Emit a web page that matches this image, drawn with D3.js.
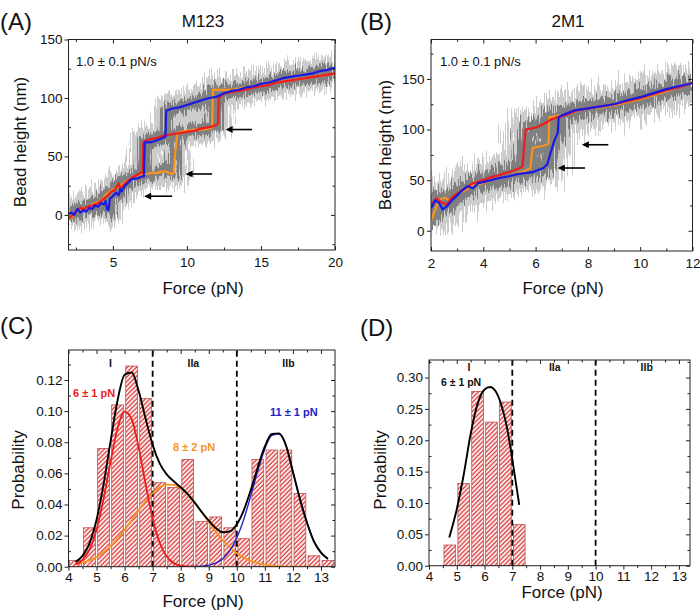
<!DOCTYPE html>
<html><head><meta charset="utf-8">
<script src="https://cdn.jsdelivr.net/npm/d3@7"></script>
<style>body{margin:0;background:#fff} text{font-family:"Liberation Sans",Arial,sans-serif}</style>
</head><body><svg id="c" width="700" height="614"></svg>
<script>
// ---------- DATA ----------
// Panel A (M123): smoothed traces [force pN, bead height nm]
const traceA_blue = [[2.0,1],[2.2,2],[2.4,0],[2.6,5],[2.8,2],[3.0,4],[3.2,3],[3.4,6],[3.6,5],[3.8,8],[4.0,7],[4.2,10],[4.4,9],[4.5,12],[4.6,5],[4.7,4],[4.8,14],[5.0,16],[5.2,19],[5.4,17],[5.5,22],[5.6,20],[5.8,25],[6.0,27],[6.2,30],[6.4,31],[6.6,31],[6.8,32],[7.0,33],[7.1,33],[7.15,62],[7.3,62],[7.5,62],[7.8,63],[8.0,64],[8.2,65],[8.4,66],[8.55,67],[8.6,89],[8.8,90],[9.0,91],[9.5,92],[10.0,94],[10.5,96],[11.0,98],[11.5,100],[12.0,101],[12.5,104],[13.0,106],[13.5,107],[14.0,109],[14.5,110],[15.0,112],[15.5,113],[16.0,115],[16.5,117],[17.0,118],[17.5,119],[18.0,120],[18.5,121],[19.0,123],[19.5,124],[20.0,126]];
const traceA_red = [[2.0,-3],[2.2,-1],[2.5,3],[2.8,6],[3.0,5],[3.3,7],[3.6,8],[4.0,10],[4.3,13],[4.6,16],[4.9,20],[5.1,21],[5.3,25],[5.4,27],[5.5,22],[5.8,27],[6.0,29],[6.3,32],[6.6,34],[6.9,36],[7.0,36],[7.05,62],[7.3,64],[7.6,65],[8.0,66],[8.5,68],[9.0,69],[9.5,70],[10.0,71],[10.5,72],[11.0,74],[11.5,75],[11.8,76],[12.0,77],[12.1,78],[12.15,100],[12.5,104],[13.0,105],[13.5,106],[14.0,107],[14.5,109],[15.0,110],[15.5,111],[16.0,113],[16.5,114],[17.0,115],[17.5,116],[18.0,117],[18.5,118],[19.0,119],[19.5,120],[20.0,121]];
const traceA_orange = [[2.0,-4],[2.2,-2],[2.5,2],[2.8,5],[3.0,6],[3.3,6],[3.6,9],[4.0,11],[4.3,14],[4.6,18],[4.9,21],[5.2,23],[5.5,25],[5.8,28],[6.1,30],[6.4,33],[6.7,34],[7.0,35],[7.3,35],[7.6,36],[8.0,36],[8.3,37],[8.6,37],[9.0,35],[9.1,36],[9.2,52],[9.35,70],[9.6,71],[10.0,72],[10.5,73],[11.0,73],[11.5,74],[11.7,75],[11.75,107],[12.0,107],[12.5,107],[13.0,107],[13.5,108],[14.0,109],[14.5,110],[15.0,111],[15.5,112],[16.0,113],[16.5,114],[17.0,115],[17.5,116],[18.0,117],[18.5,118],[19.0,119],[19.5,120],[20.0,121]];
const arrowsA = [[12.7,14.4,73],[10.0,11.7,35],[7.2,9.0,16]];

// Panel B (2M1)
const traceB_blue = [[2.0,22],[2.15,30],[2.3,28],[2.45,21],[2.6,24],[2.8,30],[3.0,35],[3.2,40],[3.4,44],[3.6,42],[3.8,47],[4.0,48],[4.3,50],[4.6,52],[5.0,54],[5.3,56],[5.6,57],[5.9,58],[6.1,60],[6.3,62],[6.45,66],[6.55,75],[6.7,88],[6.85,97],[6.88,112],[7.0,114],[7.2,116],[7.5,119],[8.0,121],[8.5,123],[9.0,125],[9.5,129],[10.0,132],[10.5,136],[11.0,140],[11.5,143],[12.0,146]];
const traceB_red = [[2.0,25],[2.2,32],[2.4,28],[2.6,26],[2.8,33],[3.0,37],[3.3,42],[3.6,47],[4.0,50],[4.3,53],[4.6,55],[5.0,58],[5.2,60],[5.4,62],[5.5,64],[5.55,80],[5.62,100],[5.8,101],[6.0,102],[6.2,104],[6.4,107],[6.6,110],[6.8,112],[7.0,113],[7.3,116],[7.6,119],[8.0,121],[8.5,123],[9.0,125],[9.5,128],[10.0,131],[10.5,135],[11.0,139],[11.5,142],[12.0,146]];
const traceB_orange = [[2.0,10],[2.15,20],[2.3,30],[2.5,33],[2.7,30],[3.0,37],[3.3,40],[3.6,45],[4.0,47],[4.3,50],[4.6,52],[5.0,54],[5.3,57],[5.6,59],[5.8,62],[5.85,75],[5.9,82],[6.1,83],[6.3,84],[6.5,86],[6.52,112],[6.7,113],[7.0,114],[7.5,118],[8.0,121],[8.5,122],[9.0,124],[9.5,127],[10.0,130],[10.5,134],[11.0,138],[11.5,142],[12.0,147]];
const arrowsB = [[7.82,8.78,85],[6.9,7.89,62]];

// Panel C histogram (bin centre, probability)
const histC_centers = [4.25,4.75,5.25,5.75,6.25,6.75,7.25,7.75,8.25,8.75,9.25,9.75,10.25,10.75,11.25,11.75,12.25,12.75,13.25];
const histC_values  = [0.004,0.025,0.076,0.104,0.129,0.108,0.054,0.051,0.069,0.029,0.032,0.025,0.018,0.069,0.075,0.075,0.047,0.007,0.004];
const fitC_red = [[4.25,0.0015],[4.5,0.0044],[4.75,0.0111],[5.0,0.0239],[5.25,0.0436],[5.5,0.0675],[5.75,0.089],[6.0,0.0997],[6.25,0.0949],[6.5,0.0769],[6.75,0.0529],[7.0,0.031],[7.25,0.0154],[7.5,0.0065],[7.75,0.0023],[8.0,0.0007],[8.25,0.0002],[8.5,0]];
const fitC_orange = [[4.25,0.0016],[4.5,0.0026],[4.75,0.0041],[5.0,0.0063],[5.25,0.0093],[5.5,0.0132],[5.75,0.018],[6.0,0.0237],[6.25,0.0299],[6.5,0.0362],[6.75,0.0422],[7.0,0.0473],[7.25,0.051],[7.5,0.0528],[7.75,0.0526],[8.0,0.0504],[8.25,0.0464],[8.5,0.0411],[8.75,0.0349],[9.0,0.0286],[9.25,0.0225],[9.5,0.017],[9.75,0.0124],[10.0,0.0086],[10.25,0.0058],[10.5,0.0037],[10.75,0.0023],[11.0,0.0014],[11.5,0.0004],[12.0,0.0001],[12.75,0]];
const fitC_blue = [[8.0,0],[8.5,0.0001],[9.0,0.001],[9.25,0.0023],[9.5,0.0051],[9.75,0.0103],[10.0,0.0186],[10.25,0.0306],[10.5,0.0457],[10.75,0.0618],[11.0,0.0759],[11.25,0.0845],[11.5,0.0853],[11.75,0.0781],[12.0,0.061],[12.25,0.0435],[12.5,0.0284],[12.75,0.0162],[13.0,0.0091],[13.25,0.005]];
const fitC_total = [[4.25,0.0031],[4.5,0.007],[4.75,0.0152],[5.0,0.0302],[5.25,0.0529],[5.5,0.0807],[5.75,0.107],[6.0,0.1234],[6.25,0.1248],[6.5,0.1131],[6.75,0.0951],[7.0,0.0783],[7.25,0.0664],[7.5,0.0593],[7.75,0.0549],[8.0,0.0511],[8.25,0.0466],[8.5,0.0412],[8.75,0.0352],[9.0,0.0296],[9.25,0.0248],[9.5,0.0221],[9.75,0.0227],[10.0,0.0272],[10.25,0.0364],[10.5,0.0494],[10.75,0.0641],[11.0,0.0773],[11.25,0.0853],[11.5,0.0857],[11.75,0.0781],[12.0,0.061],[12.25,0.0435],[12.5,0.0284],[12.75,0.0162],[13.0,0.0091],[13.25,0.005]];

// Panel D histogram
const histD_centers = [4.75,5.25,5.75,6.25,6.75,7.25];
const histD_values  = [0.033,0.131,0.278,0.229,0.261,0.066];
const fitD_total = [[4.73,0.045],[5.0,0.09],[5.25,0.145],[5.5,0.21],[5.75,0.258],[6.0,0.281],[6.2,0.285],[6.4,0.278],[6.6,0.257],[6.8,0.222],[7.0,0.17],[7.25,0.097]];

const regionBounds = [7,10];
const regionLabels = [[5.5,"I"],[8.45,"IIa"],[11.84,"IIb"]];
const regionLabelsD = [[5.44,"I"],[8.53,"IIa"],[11.84,"IIb"]];

// ---------- DRAWING ----------
const FONT = '"Liberation Sans",Arial,sans-serif';
const svg = d3.select('#c');
const defs = svg.append('defs');

const pat = defs.append('pattern').attr('id','hatch').attr('patternUnits','userSpaceOnUse')
  .attr('width',3.2).attr('height',3.2).attr('patternTransform','rotate(45)');
pat.append('rect').attr('width',3.2).attr('height',3.2).attr('fill','#fdeaea');
pat.append('line').attr('x1',1).attr('y1',0).attr('x2',1).attr('y2',3.2).attr('stroke','#d83a3a').attr('stroke-width',1.2);

const mk = defs.append('marker').attr('id','ah').attr('viewBox','0 0 10 10').attr('refX',1).attr('refY',5)
  .attr('markerWidth',8).attr('markerHeight',7).attr('markerUnits','userSpaceOnUse').attr('orient','auto-start-reverse');
mk.append('path').attr('d','M0,0 L10,5 L0,10 z').attr('fill','#000');

function noiseFilter(id, seed, scale){
  const f = defs.append('filter').attr('id',id).attr('filterUnits','userSpaceOnUse')
    .attr('x',0).attr('y',0).attr('width',700).attr('height',614);
  f.append('feTurbulence').attr('type','fractalNoise').attr('baseFrequency','0.9 0.02')
    .attr('numOctaves',2).attr('seed',seed).attr('result','t');
  f.append('feDisplacementMap').attr('in','SourceGraphic').attr('in2','t').attr('scale',scale)
    .attr('xChannelSelector','G').attr('yChannelSelector','R');
}
noiseFilter('nA1',3,30); noiseFilter('nA2',7,20);
noiseFilter('nB1',5,44); noiseFilter('nB2',11,26);

function makePanel(o){
  const x = d3.scaleLinear().domain(o.xd).range([o.l,o.r]);
  const y = d3.scaleLinear().domain(o.yd).range([o.b,o.t]);
  const id = 'clip'+o.name;
  defs.append('clipPath').attr('id',id).append('rect')
    .attr('x',o.l).attr('y',o.t).attr('width',o.r-o.l).attr('height',o.b-o.t);
  const g = svg.append('g');
  const plot = g.append('g').attr('clip-path',`url(#${id})`);
  return {x,y,g,plot,o};
}

function styleAxis(sel){
  sel.select('.domain').remove();
  sel.selectAll('line').attr('stroke','#222').attr('stroke-width',1);
  sel.selectAll('text').attr('font-family',FONT).attr('font-size',13.5).attr('fill','#111');
}

function drawAxes(p){
  const {x,y,g,o} = p;
  const ax = g.append('g');
  styleAxis(ax.append('g').attr('transform',`translate(0,${o.b})`)
    .call(d3.axisBottom(x).tickValues(o.xMajor).tickSizeInner(o.bt).tickSizeOuter(0).tickPadding(o.bp).tickFormat(o.xFmt)));
  styleAxis(ax.append('g').attr('transform',`translate(0,${o.b})`)
    .call(d3.axisBottom(x).tickValues(o.xMinor).tickSizeInner(o.bt>0?2.5:-2.5).tickSizeOuter(0).tickFormat('')));
  styleAxis(ax.append('g').attr('transform',`translate(0,${o.t})`)
    .call(d3.axisTop(x).tickValues(o.xMajor).tickSizeInner(-4).tickSizeOuter(0).tickFormat('')));
  styleAxis(ax.append('g').attr('transform',`translate(0,${o.t})`)
    .call(d3.axisTop(x).tickValues(o.xMinor).tickSizeInner(-2.5).tickSizeOuter(0).tickFormat('')));
  styleAxis(ax.append('g').attr('transform',`translate(${o.l},0)`)
    .call(d3.axisLeft(y).tickValues(o.yMajor).tickSizeInner(4).tickSizeOuter(0).tickPadding(o.lp).tickFormat(o.yFmt)));
  styleAxis(ax.append('g').attr('transform',`translate(${o.l},0)`)
    .call(d3.axisLeft(y).tickValues(o.yMinor).tickSizeInner(-2.5).tickSizeOuter(0).tickFormat('')));
  styleAxis(ax.append('g').attr('transform',`translate(${o.r},0)`)
    .call(d3.axisRight(y).tickValues(o.yMajor).tickSizeInner(-4).tickSizeOuter(0).tickFormat('')));
  styleAxis(ax.append('g').attr('transform',`translate(${o.r},0)`)
    .call(d3.axisRight(y).tickValues(o.yMinor).tickSizeInner(-2.5).tickSizeOuter(0).tickFormat('')));
  ax.append('rect').attr('x',o.l).attr('y',o.t).attr('width',o.r-o.l).attr('height',o.b-o.t)
    .attr('fill','none').attr('stroke','#222').attr('stroke-width',1);
}

function txt(s, x, y, size, opts={}){
  const t = svg.append('text').attr('x',x).attr('y',y).attr('font-family',FONT).attr('font-size',size)
    .attr('fill',opts.fill||'#111').attr('text-anchor',opts.anchor||'start')
    .attr('font-weight',opts.weight||'normal').text(s);
  if(opts.rotate) t.attr('transform',`rotate(-90,${x},${y})`);
  return t;
}

const RED='#ee1c1c', ORANGE='#f7931e', BLUE='#1a1ae6';

function tracePanel(p, traces, widths, fids, arrows){
  const line = d3.line().x(d=>p.x(d[0])).y(d=>p.y(d[1]));
  const g1 = p.plot.append('g').attr('filter',`url(#${fids[0]})`);
  traces.forEach(t=>g1.append('path').attr('d',line(t.d)).attr('fill','none').attr('stroke','#cccccc')
    .attr('stroke-width',widths[0]).attr('stroke-linejoin','round').attr('stroke-linecap','butt'));
  const g2 = p.plot.append('g').attr('filter',`url(#${fids[1]})`);
  traces.forEach(t=>g2.append('path').attr('d',line(t.d)).attr('fill','none').attr('stroke','#808080')
    .attr('stroke-width',widths[1]).attr('stroke-linejoin','round').attr('stroke-linecap','butt'));
  traces.forEach(t=>p.plot.append('path').attr('d',line(t.d)).attr('fill','none').attr('stroke',t.c)
    .attr('stroke-width',2.2).attr('stroke-linejoin','round'));
  arrows.forEach(a=>p.g.append('line').attr('x1',p.x(a[0])+5).attr('x2',p.x(a[1])).attr('y1',p.y(a[2])).attr('y2',p.y(a[2]))
    .attr('stroke','#000').attr('stroke-width',1.6).attr('marker-start','url(#ah)'));
}

// Panel A
const pA = makePanel({name:'A',xd:[2,20],yd:[-30,150],l:68.5,r:335,t:39.5,b:250,
  xMajor:[5,10,15,20],xMinor:[2.5,7.5,12.5,17.5],yMajor:[0,50,100,150],yMinor:[-25,25,75,125],
  bt:-4,bp:7,lp:2,xFmt:d3.format('d'),yFmt:d3.format('d')});
tracePanel(pA,[{d:traceA_orange,c:ORANGE},{d:traceA_red,c:RED},{d:traceA_blue,c:BLUE}],[28,12],['nA1','nA2'],arrowsA);
drawAxes(pA);

// Panel B
const pB = makePanel({name:'B',xd:[2,12],yd:[-20,189],l:431,r:692.5,t:39.5,b:251,
  xMajor:[2,4,6,8,10,12],xMinor:[3,5,7,9,11],yMajor:[0,50,100,150],yMinor:[25,75,125,175],
  bt:-4,bp:7,lp:2.5,xFmt:d3.format('d'),yFmt:d3.format('d')});
tracePanel(pB,[{d:traceB_orange,c:ORANGE},{d:traceB_red,c:RED},{d:traceB_blue,c:BLUE}],[38,16],['nB1','nB2'],arrowsB);
drawAxes(pB);

function histPanel(p, centers, values, curves, labels, labY){
  const w = 0.42;
  p.plot.selectAll('rect.bar').data(centers).join('rect').attr('class','bar')
    .attr('x',(c)=>p.x(c-w/2)).attr('width',(c)=>p.x(c+w/2)-p.x(c-w/2))
    .attr('y',(c,i)=>p.y(values[i])).attr('height',(c,i)=>p.y(0)-p.y(values[i]))
    .attr('fill','url(#hatch)').attr('stroke','#b84040').attr('stroke-width',0.7);
  regionBounds.forEach(v=>p.plot.append('line').attr('x1',p.x(v)).attr('x2',p.x(v))
    .attr('y1',p.y.range()[0]).attr('y2',p.y.range()[1]).attr('stroke','#000').attr('stroke-width',1.8)
    .attr('stroke-dasharray','6,4'));
  const line = d3.line().x(d=>p.x(d[0])).y(d=>p.y(d[1])).curve(d3.curveMonotoneX);
  curves.forEach(c=>p.plot.append('path').attr('d',line(c.d)).attr('fill','none').attr('stroke',c.c)
    .attr('stroke-width',c.w||1.8));
  labels.forEach(l=>txt(l[1],p.x(l[0]),labY,10.5,{anchor:'middle',weight:'bold'}));
}

// Panel C
const pC = makePanel({name:'C',xd:[4,13.5],yd:[0,0.1393],l:68.5,r:335,t:350,b:566.7,
  xMajor:[4,5,6,7,8,9,10,11,12,13],xMinor:[4.5,5.5,6.5,7.5,8.5,9.5,10.5,11.5,12.5],
  yMajor:[0,0.02,0.04,0.06,0.08,0.10,0.12],yMinor:[0.01,0.03,0.05,0.07,0.09,0.11,0.13],
  bt:4,bp:2,lp:2,xFmt:d3.format('d'),yFmt:d3.format('.2f')});
histPanel(pC,histC_centers,histC_values,
  [{d:fitC_orange,c:ORANGE},{d:fitC_blue,c:'#2222c8',w:1.4},{d:fitC_red,c:RED},{d:fitC_total,c:'#000',w:1.9}],
  regionLabels,367);
drawAxes(pC);
txt('6 ± 1 pN',73,397,11,{fill:RED,weight:'bold'});
txt('8 ± 2 pN',173,451,11,{fill:ORANGE,weight:'bold'});
txt('11 ± 1 pN',270,416,11,{fill:'#2222c8',weight:'bold'});

// Panel D
const pD = makePanel({name:'D',xd:[4,13.4],yd:[0,0.328],l:429,r:690,t:360,b:565.7,
  xMajor:[4,5,6,7,8,9,10,11,12,13],xMinor:[4.5,5.5,6.5,7.5,8.5,9.5,10.5,11.5,12.5],
  yMajor:[0,0.05,0.10,0.15,0.20,0.25,0.30],yMinor:[0.025,0.075,0.125,0.175,0.225,0.275,0.325],
  bt:4,bp:2,lp:2,xFmt:d3.format('d'),yFmt:d3.format('.2f')});
histPanel(pD,histD_centers,histD_values,[{d:fitD_total,c:'#000',w:1.9}],regionLabelsD,371);
drawAxes(pD);
txt('6 ± 1 pN',441,386,10.5,{weight:'bold'});

// Texts
txt('(A)',0,30,24); txt('(B)',360,30,24); txt('(C)',0,334,24); txt('(D)',360,336,24);
txt('M123',203,27,17,{anchor:'middle'}); txt('2M1',568,27,17,{anchor:'middle'});
txt('1.0 ± 0.1 pN/s',76,66,13); txt('1.0 ± 0.1 pN/s',440,66,13);
txt('Force (pN)',203,294,17,{anchor:'middle'}); txt('Force (pN)',563,294,17,{anchor:'middle'});
txt('Force (pN)',203,607,17,{anchor:'middle'}); txt('Force (pN)',562,598,17,{anchor:'middle'});
txt('Bead height (nm)',26,142,17,{anchor:'middle',rotate:true});
txt('Bead height (nm)',391,145,17,{anchor:'middle',rotate:true});
txt('Probability',24,470,17,{anchor:'middle',rotate:true});
txt('Probability',386,470,17,{anchor:'middle',rotate:true});
</script></body></html>
